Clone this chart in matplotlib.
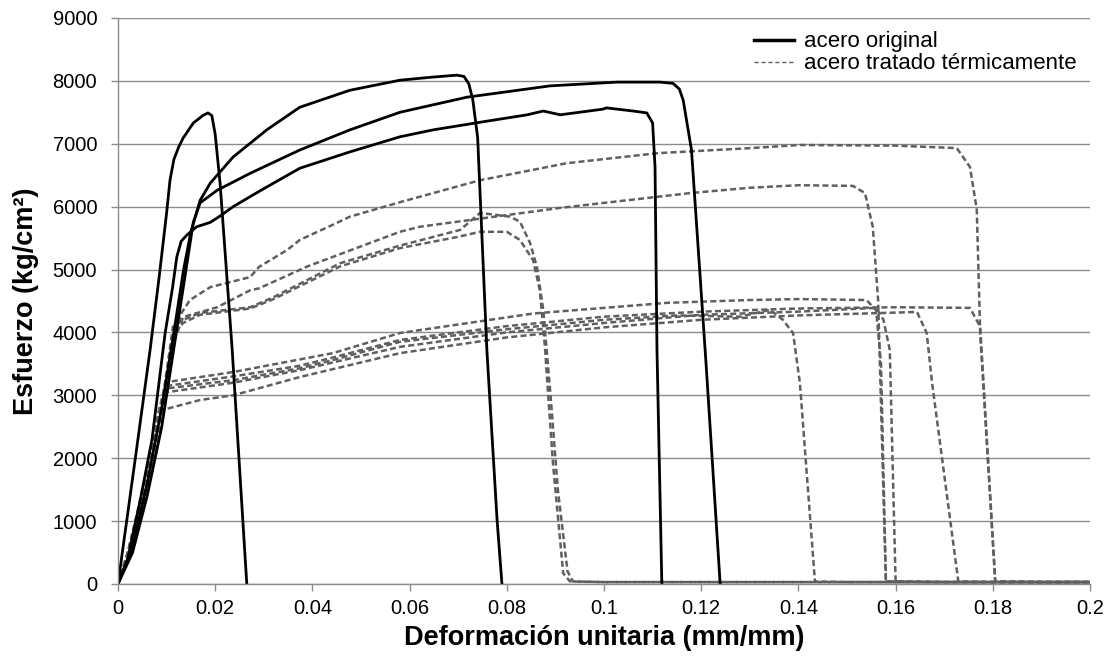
import matplotlib
matplotlib.use("Agg")
import matplotlib.pyplot as plt
from matplotlib.lines import Line2D

plt.rcParams['font.family'] = ['Liberation Sans', 'DejaVu Sans']

# acero original (black solid)
orig_a_x = [0, 0.0038, 0.0066, 0.0085, 0.0100, 0.0107, 0.0115, 0.0125, 0.0134, 0.0155, 0.0175, 0.0185, 0.0193, 0.0200, 0.0210, 0.0235, 0.0265]
orig_a_y = [0, 2130, 3720, 4900, 5900, 6420, 6750, 6950, 7090, 7330, 7450, 7490, 7450, 7150, 6375, 3720, 0]

orig_b_x = [0, 0.003, 0.006, 0.009, 0.0115, 0.0135, 0.015, 0.0169, 0.019, 0.0237, 0.0306, 0.0374, 0.0477, 0.058,
            0.0648, 0.0697, 0.0712, 0.0722, 0.0730, 0.0740, 0.0759, 0.078, 0.079]
orig_b_y = [0, 600, 1600, 2800, 4000, 5000, 5600, 6100, 6375, 6790, 7220, 7580, 7850, 8010,
            8060, 8090, 8070, 7950, 7700, 7100, 3720, 1017, 0]

orig_c_x = [0, 0.003, 0.006, 0.009, 0.012, 0.014, 0.0155, 0.0169, 0.0204, 0.0272, 0.0374, 0.0477, 0.058, 0.0718,
            0.0889, 0.1027, 0.1115, 0.1142, 0.1155, 0.1163, 0.1180, 0.1210, 0.1239]
orig_c_y = [0, 500, 1400, 2500, 4000, 5000, 5750, 6060, 6260, 6530, 6900, 7220, 7500, 7740,
            7920, 7980, 7980, 7960, 7870, 7690, 6900, 3500, 0]

orig_d_x = [0, 0.002, 0.0045, 0.007, 0.0097, 0.0112, 0.0121, 0.0130, 0.0142, 0.0162, 0.019, 0.021, 0.0237, 0.0292,
            0.0374, 0.0477, 0.058, 0.0648, 0.0760, 0.0842, 0.0875, 0.091, 0.0998, 0.1005, 0.106, 0.1088, 0.110,
            0.1105, 0.1109, 0.1119]
orig_d_y = [0, 400, 1300, 2300, 3990, 4700, 5200, 5450, 5550, 5680, 5750, 5850, 6000, 6250,
            6610, 6870, 7110, 7220, 7360, 7460, 7520, 7460, 7550, 7570, 7520, 7490, 7330,
            6630, 3720, 0]

# acero tratado termicamente (gray dashed)
trat_1_x = [0, 0.002, 0.004, 0.007, 0.0095, 0.0115, 0.013, 0.0148, 0.019, 0.0272, 0.029, 0.0348, 0.0374, 0.045,
            0.0477, 0.058, 0.0745, 0.0923, 0.111, 0.130, 0.1403, 0.160, 0.1726, 0.1753, 0.1767, 0.1774, 0.1805, 0.19, 0.2]
trat_1_y = [0, 500, 1150, 2200, 3100, 3900, 4300, 4515, 4720, 4880, 5040, 5310, 5470, 5740,
            5840, 6070, 6420, 6690, 6850, 6930, 6980, 6970, 6930, 6630, 5950, 3990, 40, 30, 30]

trat_2_x = [0, 0.002, 0.004, 0.007, 0.0095, 0.0115, 0.0134, 0.0204, 0.0272, 0.029, 0.039, 0.058, 0.0621, 0.091,
            0.1177, 0.130, 0.140, 0.1512, 0.1537, 0.1553, 0.1564, 0.158, 0.17, 0.2]
trat_2_y = [0, 450, 1100, 2150, 3050, 3850, 4245, 4400, 4670, 4700, 5050, 5600, 5680, 5980,
            6215, 6300, 6340, 6330, 6215, 5680, 4515, 40, 30, 30]

trat_3_x = [0, 0.002, 0.004, 0.007, 0.0095, 0.0113, 0.0134, 0.0169, 0.0272, 0.032, 0.0457, 0.058, 0.0704, 0.0745,
            0.0807, 0.0827, 0.0848, 0.0862, 0.0875, 0.0890, 0.0905, 0.0925, 0.0936, 0.10, 0.2]
trat_3_y = [0, 480, 1120, 2150, 3100, 4090, 4200, 4310, 4400, 4560, 5100, 5380, 5630, 5900,
            5840, 5760, 5420, 5040, 4360, 3000, 1500, 200, 40, 30, 30]

trat_4_x = [0, 0.002, 0.004, 0.007, 0.0095, 0.0113, 0.0134, 0.0169, 0.0272, 0.032, 0.0457, 0.058, 0.0700, 0.0745,
            0.080, 0.0827, 0.0854, 0.0868, 0.0879, 0.0883, 0.0895, 0.0916, 0.0930, 0.10, 0.2]
trat_4_y = [0, 430, 1050, 2050, 3000, 3950, 4150, 4280, 4380, 4530, 5050, 5340, 5520, 5600,
            5600, 5470, 5150, 4670, 3720, 3240, 1920, 170, 40, 30, 30]

trat_5_x = [0, 0.002, 0.004, 0.006, 0.0085, 0.0101, 0.0237, 0.0374, 0.0442, 0.058, 0.08, 0.10, 0.115, 0.128,
            0.1342, 0.1368, 0.1389, 0.1403, 0.1434, 0.15, 0.2]
trat_5_y = [0, 450, 1050, 1750, 2700, 3110, 3240, 3430, 3560, 3850, 4050, 4200, 4270, 4250,
            4360, 4200, 3990, 3200, 40, 30, 30]

trat_6_x = [0, 0.002, 0.004, 0.006, 0.0085, 0.0101, 0.0237, 0.0442, 0.058, 0.0854, 0.113, 0.130, 0.140, 0.154,
            0.156, 0.157, 0.158, 0.17, 0.2]
trat_6_y = [0, 500, 1100, 1800, 2800, 3210, 3370, 3670, 3990, 4300, 4470, 4515, 4530, 4515,
            4350, 3500, 40, 30, 30]

trat_7_x = [0, 0.002, 0.004, 0.006, 0.0085, 0.0101, 0.0237, 0.0374, 0.058, 0.08, 0.10, 0.12, 0.14, 0.156,
            0.1575, 0.1588, 0.160, 0.17, 0.2]
trat_7_y = [0, 420, 1000, 1650, 2650, 3050, 3200, 3400, 3770, 4000, 4150, 4280, 4330, 4390,
            4200, 3720, 40, 30, 30]

trat_8_x = [0, 0.002, 0.004, 0.006, 0.0085, 0.0093, 0.0169, 0.0237, 0.0374, 0.058, 0.08, 0.10, 0.12, 0.14,
            0.1644, 0.1664, 0.1675, 0.1729, 0.18, 0.2]
trat_8_y = [0, 380, 900, 1500, 2450, 2770, 2925, 3000, 3290, 3670, 3920, 4080, 4200, 4270,
            4325, 3990, 3200, 40, 30, 30]

trat_9_x = [0, 0.002, 0.004, 0.006, 0.0085, 0.0101, 0.0237, 0.0374, 0.0442, 0.058, 0.08, 0.10, 0.12, 0.14,
            0.16, 0.1753, 0.1774, 0.1805, 0.19, 0.2]
trat_9_y = [0, 440, 1050, 1700, 2700, 3150, 3300, 3470, 3600, 3880, 4100, 4250, 4330, 4380,
            4400, 4390, 4090, 40, 30, 30]

x_ticks = [0, 0.02, 0.04, 0.06, 0.08, 0.1, 0.12, 0.14, 0.16, 0.18, 0.2]
x_tick_labels = ['0', '0.02', '0.04', '0.06', '0.08', '0.1', '0.12', '0.14', '0.16', '0.18', '0.2']
y_ticks = list(range(0, 9001, 1000))

originals = [(orig_a_x, orig_a_y), (orig_b_x, orig_b_y), (orig_c_x, orig_c_y), (orig_d_x, orig_d_y)]
tratados = [(trat_1_x, trat_1_y), (trat_2_x, trat_2_y), (trat_3_x, trat_3_y), (trat_4_x, trat_4_y),
            (trat_5_x, trat_5_y), (trat_6_x, trat_6_y), (trat_7_x, trat_7_y), (trat_8_x, trat_8_y),
            (trat_9_x, trat_9_y)]

fig = plt.figure(figsize=(11.1, 6.6), dpi=100)
ax = fig.add_axes([0.1063, 0.1152, 0.8757, 0.8576])

gray = '#5f5f5f'
for xs, ys in tratados:
    ax.plot(xs, ys, color=gray, lw=1.8, dashes=(2.4, 1.3))
for xs, ys in originals:
    ax.plot(xs, ys, color='black', lw=2)

ax.set_xlim(0, 0.2)
ax.set_ylim(0, 9000)
ax.set_xticks(x_ticks)
ax.set_xticklabels(x_tick_labels)
ax.set_yticks(y_ticks)
ax.grid(axis='y', color='#8c8c8c', lw=1)
ax.set_axisbelow(True)
for s in ['top', 'right']:
    ax.spines[s].set_visible(False)
for s in ['left', 'bottom']:
    ax.spines[s].set_color('#8c8c8c')
    ax.spines[s].set_linewidth(1)
ax.tick_params(axis='both', colors='#8c8c8c', labelcolor='black', labelsize=14.5, length=5, width=1)
ax.tick_params(axis='x', pad=6)
ax.tick_params(axis='y', pad=10)

ax.set_xlabel('Deformación unitaria (mm/mm)', fontsize=19.5, fontweight='bold', labelpad=5)
ax.set_ylabel('Esfuerzo (kg/cm²)', fontsize=19.5, fontweight='bold', labelpad=10)

handles = [Line2D([0], [0], color='black', lw=2.5),
           Line2D([0], [0], color=gray, lw=1, dashes=(3, 2))]
ax.legend(handles, ['acero original', 'acero tratado térmicamente'], loc='upper right',
          bbox_to_anchor=(1.0, 1.0), frameon=False, fontsize=16, handlelength=1.8,
          handletextpad=0.45, labelspacing=0.05, borderaxespad=0.2)

fig.savefig('out.png', dpi=100)
